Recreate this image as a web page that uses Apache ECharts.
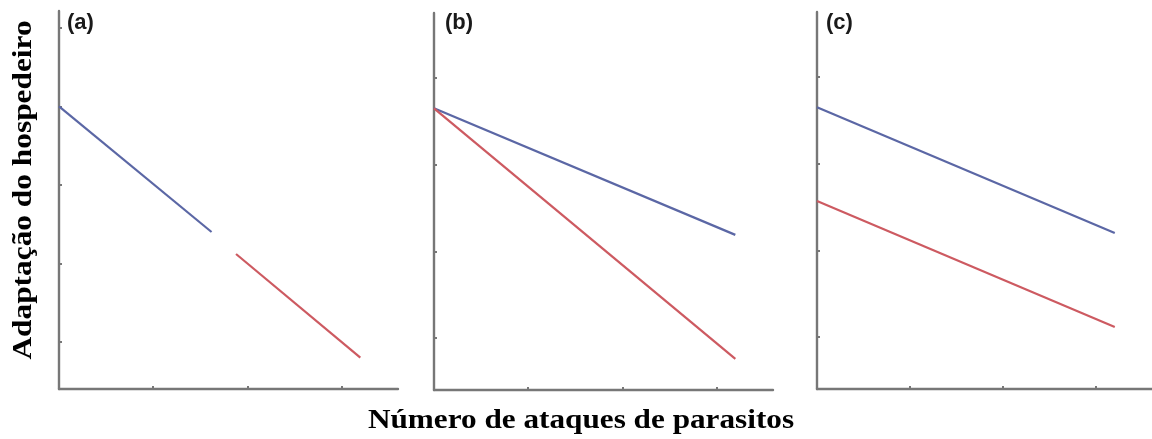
<!DOCTYPE html>
<html>
<head>
<meta charset="utf-8">
<script src="https://cdn.jsdelivr.net/npm/echarts@6/dist/echarts.min.js"></script>
<style>
  html, body { margin: 0; padding: 0; background: #ffffff; }
  #chart { width: 1152px; height: 439px; }
</style>
</head>
<body>
<div id="chart"></div>
<script>
// Panel letters and axis titles
const panelTitles = ['(a)', '(b)', '(c)'];
const yTitle = 'Adaptação do hospedeiro';
const xTitle = 'Número de ataques de parasitos';

// Host fitness vs. number of parasite attacks, one pair of lines per panel: [x, y]
const blueA = [[0, 3.6], [1.62, 2.0]];
const redA  = [[1.88, 1.72], [3.2, 0.4]];
const blueB = [[0, 3.25], [3.2, 1.79]];
const redB  = [[0, 3.25], [3.2, 0.36]];
const blueC = [[0, 3.25], [3.2, 1.8]];
const redC  = [[0, 2.17], [3.2, 0.715]];

// Tick positions (unlabelled)
const xTicks = [1, 2, 3];
const yTicksA = [0.6, 1.6, 2.6, 3.6, 4.6];
const yTicksBC = [0.6, 1.6, 2.6, 3.6];

// Axis extents per panel
const xMax = 3.6;
const yMaxA = 4.815;
const yMaxBC = 4.35;

const AXIS = '#777777';
const BLUE = '#5b67a5';
const RED = '#cd5a61';

const grids = [
  { left: 59,  top: 11, width: 339, height: 378 },
  { left: 434, top: 13, width: 339, height: 377 },
  { left: 817, top: 12, width: 339, height: 377 }
];

function xAxisFor(i) {
  return {
    type: 'value', gridIndex: i, min: 0, max: xMax,
    axisLine: { show: true, lineStyle: { color: AXIS, width: 2.4 } },
    axisTick: { show: true, inside: true, length: 3, customValues: xTicks,
                lineStyle: { color: AXIS, width: 2 } },
    axisLabel: { show: false },
    splitLine: { show: false }
  };
}
function yAxisFor(i, max, ticks) {
  return {
    type: 'value', gridIndex: i, min: 0, max: max,
    axisLine: { show: true, lineStyle: { color: AXIS, width: 2.4 } },
    axisTick: { show: true, inside: true, length: 3, customValues: ticks,
                lineStyle: { color: AXIS, width: 2 } },
    axisLabel: { show: false },
    splitLine: { show: false }
  };
}
function lineSeries(data, color, i) {
  return {
    type: 'line', data: data, xAxisIndex: i, yAxisIndex: i,
    showSymbol: false, symbol: 'none', silent: true,
    lineStyle: { color: color, width: 2.2 }
  };
}

const titleLefts = [67, 445, 826];
const graphics = panelTitles.map((t, i) => ({
  type: 'text', left: titleLefts[i], top: 12,
  style: { text: t, font: 'bold 22px "Liberation Sans", Arial, sans-serif', fill: '#1a1a1a' }
}));
graphics.push({
  type: 'text', x: 581, y: 421, scaleX: 1.115,
  style: { text: xTitle, font: 'bold 28px "Liberation Serif", "Times New Roman", serif',
           fill: '#000', align: 'center', verticalAlign: 'middle' }
});
graphics.push({
  type: 'text', x: 24, y: 190, rotation: Math.PI / 2, scaleX: 1.12,
  style: { text: yTitle, font: 'bold 28px "Liberation Serif", "Times New Roman", serif',
           fill: '#000', align: 'center', verticalAlign: 'middle' }
});

const chart = echarts.init(document.getElementById('chart'), null, { renderer: 'canvas' });
chart.setOption({
  animation: false,
  backgroundColor: '#ffffff',
  grid: grids,
  xAxis: [xAxisFor(0), xAxisFor(1), xAxisFor(2)],
  yAxis: [yAxisFor(0, yMaxA, yTicksA), yAxisFor(1, yMaxBC, yTicksBC), yAxisFor(2, yMaxBC, yTicksBC)],
  series: [
    lineSeries(blueA, BLUE, 0), lineSeries(redA, RED, 0),
    lineSeries(blueB, BLUE, 1), lineSeries(redB, RED, 1),
    lineSeries(blueC, BLUE, 2), lineSeries(redC, RED, 2)
  ],
  graphic: graphics
});
</script>
</body>
</html>
